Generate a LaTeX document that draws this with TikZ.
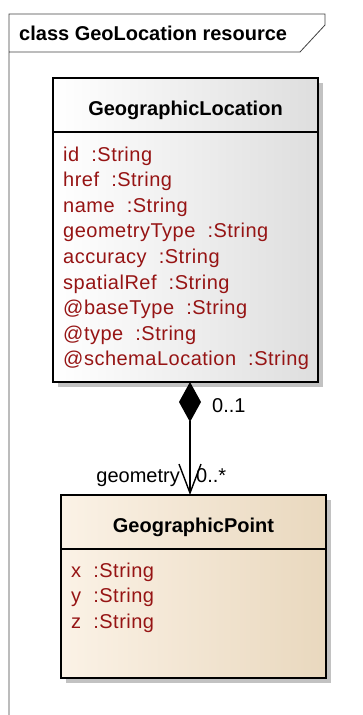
\documentclass[tikz,border=0pt]{standalone}
\usepackage{fontspec}
\setmainfont{Liberation Sans}
\usepackage{xcolor}
\usepackage{tikz}
\usetikzlibrary{shapes,arrows.meta,positioning,shadows}

\definecolor{attrred}{RGB}{150,20,20}
\definecolor{locright}{RGB}{222,222,222}
\definecolor{ptleft}{RGB}{251,242,230}
\definecolor{ptright}{RGB}{233,216,190}

\begin{document}
\begin{tikzpicture}[
    x=1pt, y=-1pt,
    every node/.style={font=\fontsize{20}{25.6}\selectfont},
    classhead/.style={rectangle, draw, line width=1.4pt, outer sep=0pt, minimum width=265pt, minimum height=54pt, text height=25pt, text depth=3.6pt, font=\fontsize{20}{25.6}\selectfont\bfseries, drop shadow={opacity=1, fill=black!24, shadow xshift=5pt, shadow yshift=-5pt}},
    classbody/.style={rectangle, draw, line width=1.4pt, outer sep=0pt, minimum width=265pt, drop shadow={opacity=1, fill=black!24, shadow xshift=5pt, shadow yshift=-5pt}},
    locfill/.style={left color=white, middle color=white!70!locright, right color=locright},
    ptfill/.style={left color=ptleft, middle color=ptleft!75!ptright, right color=ptright},
    attrs/.style={anchor=north west, inner sep=0pt, align=left, text=attrred, font=\fontsize{20}{25.6}\selectfont\addfontfeatures{LetterSpace=2.5}},
    mult/.style={inner sep=0pt},
    frame/.style={draw=black!75, line width=0.8pt},
    comp/.style={{Diamond[length=40pt,width=22pt]}-{Straight Barb[length=29pt,width=22pt]}, line width=1.4pt}
]
    \useasboundingbox (0,0) rectangle (363,715);

    % Frame
    \draw[frame] (9,715) -- (9,14) -- (325,14) -- (325,25) -- (300,52) -- (9,52);
    \node[anchor=base west, inner sep=0pt, font=\fontsize{20}{25.6}\selectfont\bfseries] (frametitle) at (19,40) {class GeoLocation resource};

    % GeographicLocation
    \node[classhead, locfill] (lochead) at (185.5,105) {GeographicLocation};
    \node[classbody, locfill, minimum height=250pt, below=0pt of lochead] (locbody) {};
    \node[attrs] (locattrs) at ([xshift=10pt, yshift=-14.5pt]locbody.north west)
        {id\ \ :String\\href\ \ :String\\name\ \ :String\\geometryType\ \ :String\\accuracy\ \ :String\\spatialRef\ \ :String\\@baseType\ \ :String\\@type\ \ :String\\@schemaLocation\ \ :String};

    % GeographicPoint
    \node[classhead, ptfill] (pthead) at (193.5,522) {GeographicPoint};
    \node[classbody, ptfill, minimum height=129pt, below=0pt of pthead] (ptbody) {};
    \node[attrs] (ptattrs) at ([xshift=10pt, yshift=-13.5pt]ptbody.north west)
        {x\ \ :String\\y\ \ :String\\z\ \ :String};

    % Composition
    \draw[comp] ([xshift=4.5pt]locbody.south) -- ([xshift=-3.5pt]pthead.north);
    \node[mult, anchor=west] (srcmult) at (212,406) {0..1};
    \node[mult, anchor=base east] (role) at (180,482) {geometry};
    \node[mult, anchor=base west] (tgtmult) at (196,482) {0..*};

\end{tikzpicture}
\end{document}
